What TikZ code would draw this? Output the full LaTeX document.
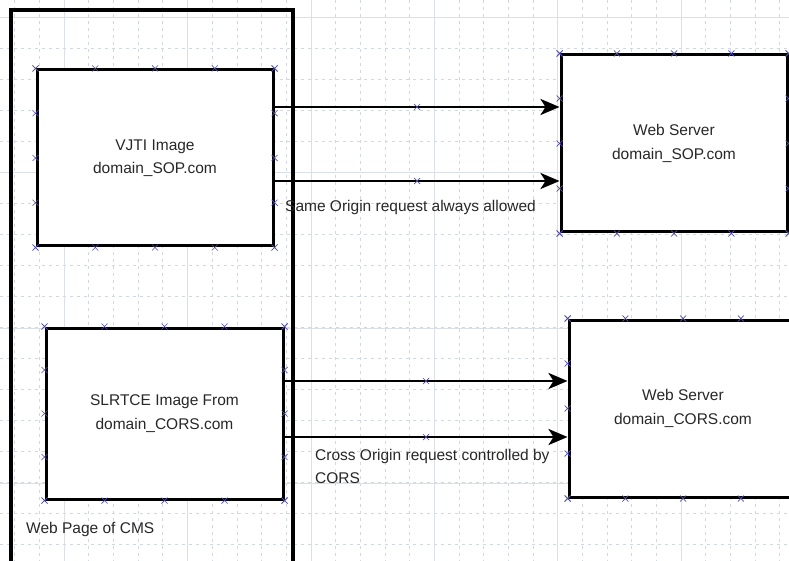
\documentclass[tikz,border=0pt]{standalone}
\usepackage{fontspec}
\setmainfont{Liberation Sans}
\usetikzlibrary{arrows.meta,calc}
\definecolor{xcol}{RGB}{80,80,170}
\definecolor{gridc}{RGB}{210,216,224}
\definecolor{txt}{RGB}{40,40,40}
\begin{document}
\begin{tikzpicture}[x=1pt,y=-1pt,
  box/.style={draw=black, line width=3pt, fill=white, inner sep=0pt, align=center, text=txt, font=\fontsize{15.5}{23.5}\selectfont},
  pagebox/.style={draw=black, line width=3.5pt, inner sep=0pt},
  arr/.style={-{Stealth[length=19pt,width=16pt,inset=5pt]}, line width=2.8pt, black},
  lbl/.style={text=txt, font=\fontsize{15.5}{23}\selectfont, inner sep=0pt, anchor=west, align=left},
  gridminor/.style={draw=gridc, line width=0.5pt, dash pattern=on 3pt off 4pt},
  gridmajor/.style={draw=gridc!80, line width=0.6pt},
  xmark/.pic={\draw[xcol, line width=0.7pt] (-3,-3)--(3,3) (-3,3)--(3,-3);}
]
\useasboundingbox (0,0) rectangle (789,561);
\clip (0,0) rectangle (789,561);
\fill[white] (0,0) rectangle (789,561);
% background grid
\foreach \i in {-3,...,30} \draw[gridminor] ({64+24.68*\i},0) -- ++(0,561);
\foreach \j in {-1,...,18} \draw[gridminor] (0,{17+31*\j}) -- ++(789,0);
\foreach \i in {-1,...,6} \draw[gridmajor] ({64+123.4*\i},0) -- ++(0,561);
\foreach \j in {0,...,3} \draw[gridmajor] (0,{17+155.5*\j}) -- ++(789,0);
% container
\node[pagebox, minimum width=282pt, minimum height=570pt] (page) at (152,295) {};
% boxes
\node[box, minimum width=236pt, minimum height=176pt] (vjti) at (155,158) {VJTI Image\\domain\_SOP.com};
\node[box, minimum width=226pt, minimum height=177pt] (sop) at (674,143.5) {Web Server\\domain\_SOP.com};
\node[box, minimum width=237pt, minimum height=171pt] (slrtce) at (164.5,413.5) {SLRTCE Image From\\domain\_CORS.com};
\node[box, minimum width=228pt, minimum height=177pt] (cors) at (683,408.5) {Web Server\\domain\_CORS.com};
% handle marks
\foreach \n in {vjti,sop,slrtce,cors}{
  \foreach \f in {0,0.25,0.5,0.75,1}{
    \pic at ($(\n.north west)!\f!(\n.north east)$) {xmark};
    \pic at ($(\n.south west)!\f!(\n.south east)$) {xmark};
    \pic at ($(\n.north west)!\f!(\n.south west)$) {xmark};
    \pic at ($(\n.north east)!\f!(\n.south east)$) {xmark};
  }
}
% connectors
\coordinate (a1s) at (vjti.east |- 0,107);
\coordinate (a1e) at (sop.west |- 0,107);
\coordinate (a2s) at (vjti.east |- 0,181);
\coordinate (a2e) at (sop.west |- 0,181);
\coordinate (b1s) at (slrtce.east |- 0,381);
\coordinate (b1e) at (cors.west |- 0,381);
\coordinate (b2s) at (slrtce.east |- 0,437);
\coordinate (b2e) at (cors.west |- 0,437);
\draw[arr] (a1s) -- (a1e);
\draw[arr] (a2s) -- (a2e);
\draw[arr] (b1s) -- (b1e);
\draw[arr] (b2s) -- (b2e);
\pic at ($(a1s)!.5!(a1e)$) {xmark};
\pic at ($(a2s)!.5!(a2e)$) {xmark};
\pic at ($(b1s)!.5!(b1e)$) {xmark};
\pic at ($(b2s)!.5!(b2e)$) {xmark};
% labels
\node[lbl] (sopl) at (285,207) {Same Origin request always allowed};
\node[lbl] (corsl) at (315,466.5) {Cross Origin request controlled by\\CORS};
\node[lbl] (pagel) at (26,529) {Web Page of CMS};
\end{tikzpicture}
\end{document}
